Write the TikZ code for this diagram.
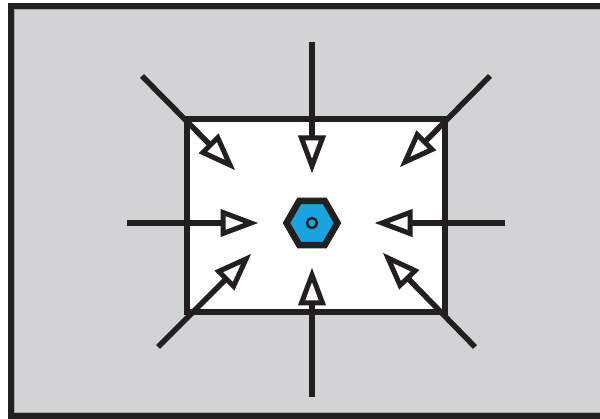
\documentclass[tikz,border=0pt]{standalone}
\usetikzlibrary{calc,shapes.geometric}
\definecolor{ink}{HTML}{231F20}
\definecolor{bg}{HTML}{D1D3D4}
\definecolor{hexblue}{HTML}{1BA3DE}
\begin{document}
\begin{tikzpicture}[x=1pt,y=-1pt,
  shaft/.style={draw=ink,line width=5.5pt},
  head/.style={draw=ink,fill=white,line width=5pt,line join=miter},
  ]
\useasboundingbox (0,0) rectangle (600,419);
\clip (0,0) rectangle (600,419);
\fill[white] (0,0) rectangle (600,419);
% outer frame
\filldraw[fill=bg,draw=ink,line width=6pt] (11,6) rectangle (605,416);
\draw[gray!70,line width=1pt] (14.5,9.5) -- (605,9.5);
\draw[gray!70,line width=1pt] (14.5,9.5) -- (14.5,412.5) -- (605,412.5);
% inner box
\filldraw[fill=white,draw=ink,line width=5.5pt] (187,119) rectangle (445,312);
% named coordinates (start, tip)
\coordinate (c) at (312,223);
\coordinate (sT) at (312,42);   \coordinate (eT) at (312,166);
\coordinate (sB) at (312,397);  \coordinate (eB) at (312,275);
\coordinate (sL) at (127,223);  \coordinate (eL) at (251,223);
\coordinate (sR) at (505,223);  \coordinate (eR) at (382,223);
\coordinate (sTL) at (142,76);  \coordinate (eTL) at (230,165);
\coordinate (sTR) at (490,76);  \coordinate (eTR) at (405,162);
\coordinate (sBL) at (158,347); \coordinate (eBL) at (246,259);
\coordinate (sBR) at (475,347); \coordinate (eBR) at (388,258);
\foreach \k in {T,B,L,R,TL,TR,BL,BR}{
  \coordinate (b\k) at ($(e\k)!28pt!(s\k)$);
  \draw[shaft] (s\k) -- (b\k);
  \draw[head] (e\k) -- ($(b\k)!10.5pt!90:(e\k)$) -- ($(b\k)!10.5pt!-90:(e\k)$) -- cycle;
}
% hexagon nut
\node (hex) [regular polygon,regular polygon sides=6,shape border rotate=0,minimum size=51pt,inner sep=0pt,
  draw=ink,line width=6.5pt,fill=hexblue] at (c) {};
\node (hole) [circle,minimum size=10pt,inner sep=0pt,draw=ink,line width=2.4pt] at (c) {};
\end{tikzpicture}
\end{document}
